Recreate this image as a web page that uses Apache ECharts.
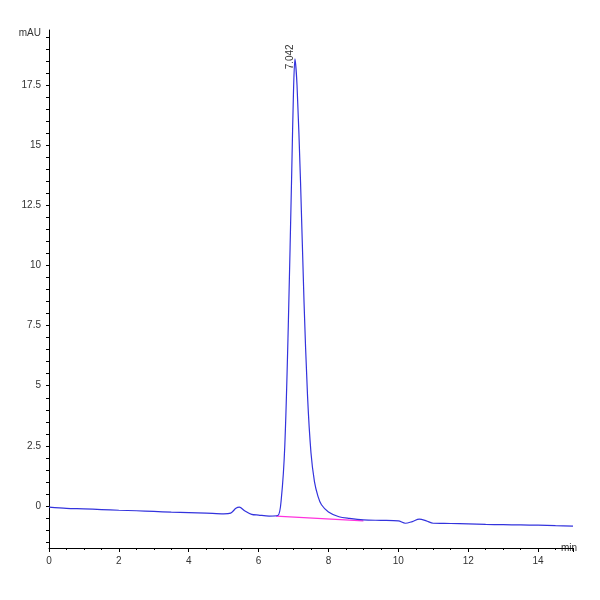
<!DOCTYPE html><html><head><meta charset="utf-8"><script src="https://cdn.jsdelivr.net/npm/echarts@6/dist/echarts.min.js"></script></head><body style="margin:0"><div id="c" style="width:600px;height:600px"></div><script>
const times=[0,0.5,1,1.5,2,2.5,3,3.5,4,4.5,5,5.2,5.35,5.45,5.6,5.8,6,6.3,6.55,6.65,6.75,6.85,6.95,7.0,7.04,7.1,7.2,7.3,7.4,7.5,7.6,7.7,7.8,8,8.3,8.6,9,9.5,10,10.2,10.4,10.6,10.8,11,11.5,12,12.5,13,13.5,14,14.5,15];
const signal=[-0.05,-0.1,-0.12,-0.15,-0.18,-0.2,-0.23,-0.26,-0.28,-0.3,-0.33,-0.3,-0.1,-0.05,-0.2,-0.35,-0.38,-0.42,-0.4,0.3,2.5,7.5,14,17.3,18.6,17.5,13.5,8.5,4.6,2.2,1.0,0.4,0.05,-0.25,-0.45,-0.52,-0.58,-0.6,-0.62,-0.72,-0.65,-0.55,-0.62,-0.72,-0.73,-0.75,-0.77,-0.78,-0.79,-0.8,-0.82,-0.84];
const baseT=[6.5,9.0],baseV=[-0.42,-0.62];
const yLab=[0,2.5,5,7.5,10,12.5,15,17.5];const yTick=[];for(let v=-1.5;v<=19.6;v+=0.5)yTick.push(+v.toFixed(1));
const c=echarts.init(document.getElementById('c'));
c.setOption({animation:false,grid:{left:49,right:27,top:30,bottom:52},
xAxis:{type:'value',min:0,max:15,interval:2,name:'min',nameLocation:'end',nameGap:-12,nameTextStyle:{fontSize:10,color:'#333',padding:[26,0,0,0]},axisLine:{onZero:false,lineStyle:{color:'#000'}},axisTick:{length:4},minorTick:{show:true,splitNumber:4,length:2,lineStyle:{color:'#000'}},axisLabel:{fontSize:10,color:'#333',showMaxLabel:false},splitLine:{show:false}},
yAxis:{type:'value',min:-1.75,max:19.8,name:'mAU',nameLocation:'end',nameGap:-8,nameTextStyle:{fontSize:10,color:'#333',align:'right',padding:[0,8,0,0]},axisLine:{lineStyle:{color:'#000'}},axisTick:{customValues:yTick,length:3},axisLabel:{customValues:yLab,fontSize:10,color:'#333'},splitLine:{show:false}},
series:[{type:'line',data:baseT.map((t,i)=>[t,baseV[i]]),symbol:'none',lineStyle:{color:'#ff33dd',width:1.2}},
{type:'line',data:times.map((t,i)=>[t,signal[i]]),symbol:'none',smooth:0.3,lineStyle:{color:'#3333dd',width:1.2},
markPoint:{symbol:'circle',symbolSize:0,data:[{coord:[7.042,18.6],value:'7.042'}],label:{show:true,formatter:'7.042',rotate:90,position:'top',distance:2,fontSize:10,color:'#333'}}}]});
</script></body></html>
